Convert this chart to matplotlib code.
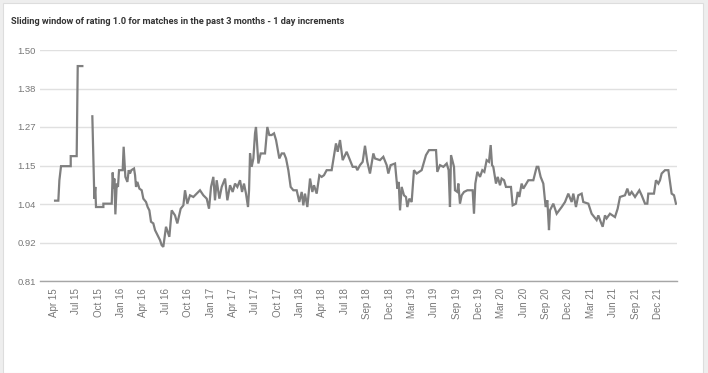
import numpy as np
import matplotlib
matplotlib.use("Agg")
import matplotlib.pyplot as plt
from matplotlib.patches import Rectangle

title = "Sliding window of rating 1.0 for matches in the past 3 months - 1 day increments"

x_labels = ["Apr 15", "Jul 15", "Oct 15", "Jan 16", "Apr 16", "Jul 16", "Oct 16", "Jan 17",
            "Apr 17", "Jul 17", "Oct 17", "Jan 18", "Apr 18", "Jul 18", "Sep 18", "Dec 18",
            "Mar 19", "Jun 19", "Sep 19", "Dec 19", "Mar 20", "Jun 20", "Sep 20", "Dec 20",
            "Mar 21", "Jun 21", "Sep 21", "Dec 21"]
y_tick_values = [0.81, 0.925, 1.04, 1.155, 1.27, 1.385, 1.50]
y_tick_labels = ["0.81", "0.92", "1.04", "1.15", "1.27", "1.38", "1.50"]

# time in months since the first label (Apr 15)
months = [0.14, 0.58, 0.72, 0.94, 2.24, 2.24, 3.04, 3.18, 3.80, 4.5,
          5.14, 5.41, 5.54, 5.63, 6.62, 6.62, 7.74, 7.87, 8.00, 8.09, 8.23, 8.41, 8.58, 8.72,
          9.21, 9.34, 9.57, 9.84, 10.02, 10.19, 10.37, 10.73, 10.87, 11.00, 11.18, 11.45,
          11.76, 11.98, 12.34, 12.56, 12.79, 13.01, 13.32, 13.55,
          13.99, 14.22, 14.44, 14.66, 15.02, 15.47, 15.78, 16.23, 16.54, 16.99, 17.35, 17.57,
          17.88, 18.24, 18.69, 19.13, 19.58, 20.03, 20.48, 20.79, 21.06, 21.37, 21.59, 21.82,
          22.18, 22.49, 22.94, 23.25, 23.61, 23.96, 24.28, 24.59, 24.95, 25.22, 25.48, 25.75,
          26.02, 26.16, 26.29, 26.51, 26.74, 26.96,
          27.09, 27.41, 27.72, 28.30, 28.61, 28.88, 29.19, 29.51, 29.78, 30.22, 30.54, 30.85,
          31.12, 31.43, 31.74, 32.10, 32.55, 32.90, 33.22, 33.44, 33.66, 33.98, 34.34, 34.65,
          34.87, 35.23, 35.59, 35.90, 36.21, 36.57, 37.24, 37.82, 38.05, 38.36, 38.72, 39.25,
          39.70, 40.06,
          40.50, 40.68, 41.04, 41.40, 41.71, 42.02, 42.38, 42.83, 43.05, 43.72, 44.17, 44.62,
          44.84, 45.15, 45.74, 46.05, 46.23, 46.41, 46.63, 46.94, 47.21, 47.39, 47.66, 47.97,
          48.28, 48.64, 49.31, 49.89, 50.30, 51.24, 51.41, 51.77, 52.22, 52.67, 52.93, 53.11,
          53.25, 53.65, 53.78,
          54.10, 54.23, 54.45, 54.68, 54.99, 55.44, 56.15, 56.33, 56.51, 56.78, 57.14, 57.45,
          57.72, 58.03, 58.34, 58.57, 58.75, 58.92, 59.28, 59.51, 59.82, 60.04, 60.36, 60.62,
          61.29, 61.52, 61.96, 62.19, 62.41, 62.72, 62.95, 63.62, 64.29, 64.74, 64.96, 65.27,
          65.63, 65.94, 66.17, 66.39, 66.52, 66.97,
          67.42, 68.09, 68.54, 68.98, 69.43, 69.65, 70.01, 70.32, 70.77, 70.99, 71.67, 72.11,
          72.78, 73.01, 73.32, 73.59, 73.90, 74.12, 74.57, 75.24, 75.60, 75.91, 76.58, 76.90,
          77.17, 77.48, 77.93, 78.51, 78.82, 79.27, 79.58, 79.71, 80.47, 80.74, 81.06, 81.28,
          81.50, 81.95, 82.40, 82.84, 83.16, 83.42]

rating = [1.050, 1.050, 1.111, 1.153, 1.153, 1.183, 1.183, 1.452, 1.452, np.nan,
          1.302, 1.056, 1.091, 1.031, 1.031, 1.041, 1.041, 1.134, 1.086, 1.116, 1.009, 1.101, 1.091, 1.141,
          1.141, 1.211, 1.121, 1.106, 1.141, 1.131, 1.141, 1.146, 1.126, 1.091, 1.106, 1.086,
          1.081, 1.056, 1.046, 1.031, 1.021, 0.987, 0.982, 0.962,
          0.942, 0.932, 0.917, 0.912, 0.972, 0.942, 1.021, 1.006, 0.982, 1.026, 1.036, 1.081,
          1.041, 1.066, 1.061, 1.071, 1.081, 1.066, 1.056, 1.026, 1.091, 1.121, 1.051, 1.111,
          1.056, 1.091, 1.116, 1.051, 1.096, 1.076, 1.101, 1.091, 1.111, 1.076, 1.101, 1.071,
          1.031, 1.081, 1.191, 1.151, 1.176, 1.251,
          1.270, 1.161, 1.191, 1.191, 1.270, 1.246, 1.246, 1.251, 1.231, 1.176, 1.191, 1.191,
          1.176, 1.141, 1.091, 1.081, 1.081, 1.046, 1.076, 1.036, 1.071, 1.031, 1.116, 1.076,
          1.096, 1.071, 1.126, 1.121, 1.126, 1.141, 1.141, 1.221, 1.196, 1.231, 1.171, 1.196,
          1.171, 1.151,
          1.151, 1.141, 1.156, 1.166, 1.214, 1.166, 1.131, 1.191, 1.176, 1.171, 1.181, 1.156,
          1.131, 1.156, 1.161, 1.086, 1.106, 1.021, 1.091, 1.066, 1.061, 1.031, 1.056, 1.046,
          1.141, 1.131, 1.141, 1.186, 1.201, 1.201, 1.136, 1.156, 1.151, 1.161, 1.141, 1.031,
          1.186, 1.151, 1.081,
          1.076, 1.101, 1.041, 1.066, 1.076, 1.081, 1.081, 1.011, 1.101, 1.136, 1.121, 1.141,
          1.136, 1.171, 1.166, 1.216, 1.156, 1.151, 1.101, 1.121, 1.096, 1.116, 1.111, 1.091,
          1.091, 1.036, 1.041, 1.076, 1.061, 1.101, 1.086, 1.111, 1.111, 1.151, 1.151, 1.121,
          1.101, 1.031, 1.051, 0.962, 1.021, 1.041,
          1.011, 1.031, 1.046, 1.071, 1.046, 1.071, 1.031, 1.066, 1.071, 1.046, 1.041, 1.011,
          0.992, 1.006, 0.987, 0.972, 1.006, 0.997, 1.011, 1.001, 1.026, 1.061, 1.066, 1.086,
          1.066, 1.076, 1.061, 1.081, 1.066, 1.041, 1.041, 1.071, 1.071, 1.111, 1.101, 1.111,
          1.131, 1.141, 1.141, 1.071, 1.066, 1.041]

W, H = 708, 373
fig = plt.figure(figsize=(W / 100, H / 100), dpi=100, facecolor="#eeeeee")
fig.patches.append(Rectangle((3 / W, 0), 700 / W, 370 / H, transform=fig.transFigure,
                             facecolor="white", edgecolor="#dddddd", linewidth=0.8, zorder=-10))

ax = fig.add_axes([40 / W, 1 - 281 / H, 637 / W, 231 / H])
ax.set_facecolor("none")
ax.set_zorder(5)
ax.plot(months, rating, color="#7f7f7f", linewidth=1.6, solid_joinstyle="miter")

tick_pos = np.arange(len(x_labels)) * 3
ax.set_xticks(tick_pos)
ax.set_xticklabels(x_labels, rotation=90, fontsize=7, color="#777777",
                   family=["Liberation Sans", "DejaVu Sans"])
ax.set_yticks(y_tick_values)
ax.set_yticklabels(y_tick_labels, fontsize=6.8, color="#777777",
                   family=["Liberation Sans", "DejaVu Sans"])
ax.set_xlim(-1.88, 83.56)
ax.set_ylim(0.81, 1.50)
ax.tick_params(axis="both", length=0)
ax.tick_params(axis="x", pad=5)
ax.tick_params(axis="y", pad=3)
ax.grid(axis="y", color="#e0e0e0", linewidth=1.0)
ax.set_axisbelow(True)
for s in ["top", "right", "left"]:
    ax.spines[s].set_visible(False)
ax.spines["bottom"].set_color("#a6a6a6")
ax.spines["bottom"].set_linewidth(1.0)

fig.text(11 / W, 1 - 24 / H, title, fontsize=6.7, fontweight="bold", color="#333333",
         va="baseline", ha="left", family=["Roboto", "DejaVu Sans"])

fig.savefig("out.png", dpi=100, facecolor=fig.get_facecolor())
